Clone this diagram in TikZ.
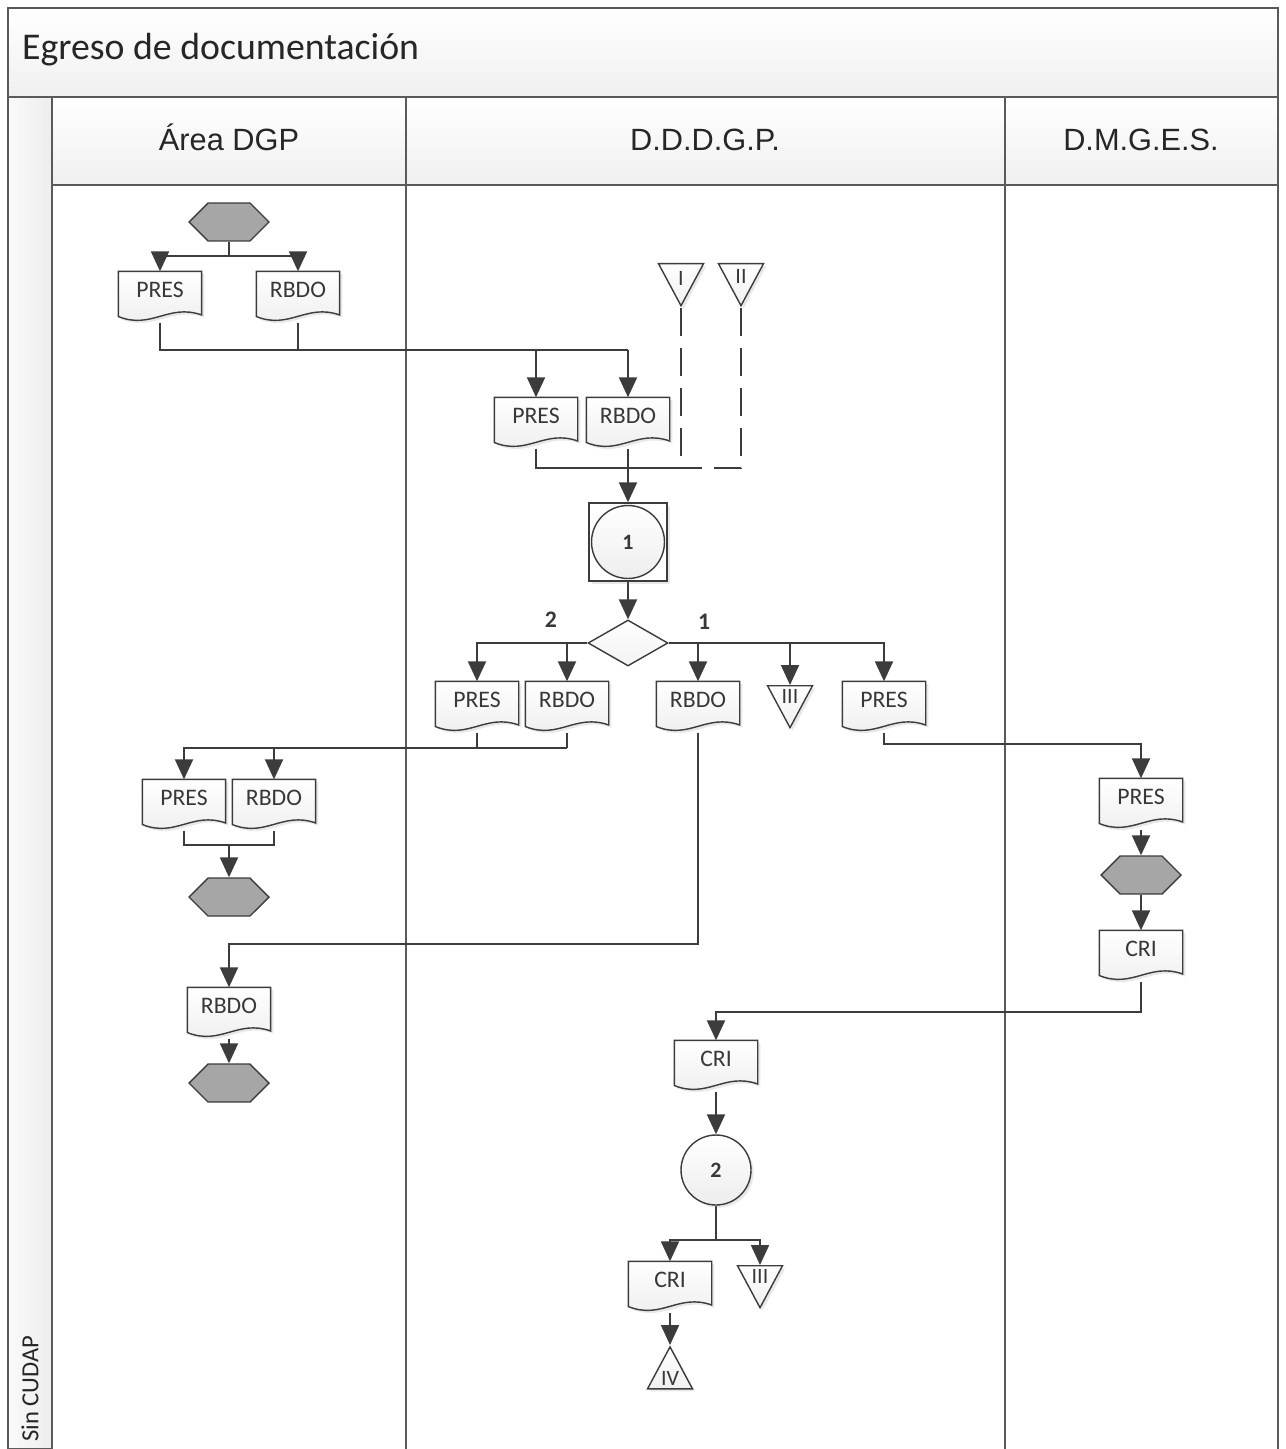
\documentclass[tikz,border=0pt]{standalone}
\usepackage{fontspec}
\setmainfont{Carlito}
\newfontfamily\headfont{Liberation Sans}
\usetikzlibrary{arrows.meta,shapes.geometric,shapes.symbols,shadows}

\definecolor{linec}{HTML}{3C3C3C}
\definecolor{framec}{HTML}{5A5A5A}
\definecolor{hexfill}{HTML}{A6A6A6}
\definecolor{textc}{HTML}{383838}

% document symbol: rectangle with a wavy bottom edge
\newdimen\dwL \newdimen\dwB \newdimen\dwW \newdimen\dwH
\makeatletter
\pgfdeclareshape{docwave}{
  \inheritsavedanchors[from=rectangle]
  \inheritanchorborder[from=rectangle]
  \inheritanchor[from=rectangle]{center}
  \inheritanchor[from=rectangle]{north}
  \inheritanchor[from=rectangle]{south}
  \inheritanchor[from=rectangle]{east}
  \inheritanchor[from=rectangle]{west}
  \inheritanchor[from=rectangle]{north east}
  \inheritanchor[from=rectangle]{north west}
  \inheritanchor[from=rectangle]{south east}
  \inheritanchor[from=rectangle]{south west}
  \backgroundpath{
    \southwest \global\dwL=\pgf@x \global\dwB=\pgf@y
    \northeast \global\dwW=\pgf@x \global\dwH=\pgf@y
    \global\advance\dwW by-\dwL
    \global\advance\dwH by-\dwB
    \pgfpathmoveto{\pgfpoint{\dwL}{\dwB+0.12*\dwH}}
    \pgfpathlineto{\pgfpoint{\dwL}{\dwB+\dwH}}
    \pgfpathlineto{\pgfpoint{\dwL+\dwW}{\dwB+\dwH}}
    \pgfpathlineto{\pgfpoint{\dwL+\dwW}{\dwB+0.15*\dwH}}
    \pgfpathcurveto{\pgfpoint{\dwL+0.6*\dwW}{\dwB+0.38*\dwH}}
                   {\pgfpoint{\dwL+0.4*\dwW}{\dwB-0.14*\dwH}}
                   {\pgfpoint{\dwL}{\dwB+0.12*\dwH}}
    \pgfpathclose
  }
}
\makeatother

\pgfdeclarelayer{lanes}
\pgfdeclarelayer{links}
\pgfsetlayers{lanes,links,main}

\tikzset{
  link/.style={draw=linec, line width=1.2pt},
  flow/.style={link, -{Triangle[length=0.4cm,width=0.36cm]}},
  dashlink/.style={link, dash pattern=on 0.56cm off 0.24cm},
  frame/.style={draw=framec, line width=1pt},
  softshadow/.style={drop shadow={shadow xshift=1.5pt, shadow yshift=-1.5pt, opacity=0.18}},
  docbox/.style={shape=docwave, draw=linec, line width=0.8pt, top color=white,
    bottom color=gray!14, minimum width=1.64cm, minimum height=1cm, inner sep=0pt,
    text height=0.31cm, text depth=0.31cm, text=textc,
    font=\fontsize{13.5}{15}\selectfont, softshadow},
  hexa/.style={shape=signal, signal to=east and west, signal pointer angle=90,
    draw=linec, line width=0.8pt, fill=hexfill, minimum width=1.6cm,
    minimum height=0.76cm, inner sep=0pt},
  tridown/.style={isosceles triangle, isosceles triangle stretches,
    shape border rotate=270, minimum width=0.9cm, minimum height=0.84cm,
    inner sep=0pt, draw=linec, line width=0.8pt, top color=white,
    bottom color=gray!12, text=textc, font=\fontsize{12.5}{13}\selectfont, softshadow},
  triup/.style={tridown, shape border rotate=90},
  conn/.style={circle, draw=linec, line width=0.8pt, top color=white,
    bottom color=gray!14, minimum size=1.4cm, inner sep=0pt, text=textc,
    font=\fontsize{12.5}{14}\selectfont\bfseries, softshadow},
  procbox/.style={rectangle, draw=linec, line width=0.8pt, fill=white,
    minimum size=1.56cm, inner sep=0pt, text=textc,
    font=\fontsize{12.5}{14}\selectfont\bfseries,
    path picture={\draw[line width=0.8pt, draw=linec, top color=white,
      bottom color=gray!14] (path picture bounding box.center) circle (0.73cm);},
    softshadow},
  decision/.style={diamond, draw=linec, line width=0.8pt, top color=white,
    bottom color=gray!10, minimum width=1.6cm, minimum height=0.92cm, inner sep=0pt},
  numlbl/.style={text=textc, font=\fontsize{13.5}{15}\selectfont\bfseries},
  lanehead/.style={anchor=base, text=black!85, font=\headfont\fontsize{17.5}{21}\selectfont}
}

\begin{document}
\begin{tikzpicture}[x=0.02cm, y=-0.02cm]
  \useasboundingbox (0,0) rectangle (1285,1449);

  % pool and lanes
  \begin{pgfonlayer}{lanes}
    \fill[white] (0,0) rectangle (1285,1449);
    \draw[frame, top color=white, bottom color=gray!12] (8,8) rectangle (1278,97);
    \draw[frame, left color=gray!4, right color=gray!14] (8,97) rectangle (52,1449);
    \draw[frame, top color=white, bottom color=gray!12] (52,97) rectangle (1278,185);
    \draw[frame] (406,97) -- (406,1449) (1005,97) -- (1005,1449) (1278,185) -- (1278,1449);
  \end{pgfonlayer}

  \node[anchor=west, text=black!85, font=\fontsize{21.5}{25}\selectfont] (title) at (16,50) {Egreso de documentación};
  \node[lanehead] (laneA) at (229,151) {Área DGP};
  \node[lanehead] (laneB) at (705,151) {D.D.D.G.P.};
  \node[lanehead] (laneC) at (1141,151) {D.M.G.E.S.};
  \node[rotate=90, anchor=west, text=black!85, font=\fontsize{14}{16}\selectfont] (sinc) at (30,1448) {Sin CUDAP};

  % Area DGP
  \node[hexa] (hexA) at (229,222) {};
  \node[docbox] (presA) at (160,297) {PRES};
  \node[docbox] (rbdoA) at (298,297) {RBDO};
  \node[docbox] (presE) at (184,805) {PRES};
  \node[docbox] (rbdoE) at (274,805) {RBDO};
  \node[hexa] (hexB) at (229,897) {};
  \node[docbox] (rbdoF) at (229,1013) {RBDO};
  \node[hexa] (hexC) at (229,1083) {};

  % D.D.D.G.P.
  \node[tridown, anchor=lower side] (triI) at (681,263) {I};
  \node[tridown, anchor=lower side] (triII) at (741,263) {II};
  \node[docbox] (presB) at (536,423) {PRES};
  \node[docbox] (rbdoB) at (628,423) {RBDO};
  \node[procbox] (proc1) at (628,542) {1};
  \node[decision] (dec) at (628,643) {};
  \node[numlbl] (lbl2) at (551,620) {2};
  \node[numlbl] (lbl1) at (704,622) {1};
  \node[docbox] (presC) at (477,707) {PRES};
  \node[docbox] (rbdoC) at (567,707) {RBDO};
  \node[docbox] (rbdoD) at (698,707) {RBDO};
  \node[tridown, anchor=lower side] (triIIIa) at (790,685) {III};
  \node[docbox] (presD) at (884,707) {PRES};
  \node[docbox] (criB) at (716,1066) {CRI};
  \node[conn] (circ2) at (716,1170) {2};
  \node[docbox] (criC) at (670,1287) {CRI};
  \node[tridown, anchor=lower side] (triIIIb) at (760,1265) {III};
  \node[triup, anchor=apex] (triIV) at (670,1345) {IV};

  % D.M.G.E.S.
  \node[docbox] (presF) at (1141,804) {PRES};
  \node[hexa] (hexD) at (1141,875) {};
  \node[docbox] (criA) at (1141,956) {CRI};

  \coordinate (jB) at (628,350);
  \coordinate (jC) at (628,468);
  \coordinate (jD) at (567,748);
  \coordinate (jF) at (229,845);
  \coordinate (jG) at (698,944);
  \coordinate (jH) at (884,744);
  \coordinate (jI) at (1141,1012);
  \coordinate (jJ) at (716,1240);

  \begin{pgfonlayer}{links}
    \draw[link] (hexA.south) -- ++(0,14) coordinate (jA);
    \draw[flow] (jA) -| (presA.north);
    \draw[flow] (jA) -| (rbdoA.north);
    \draw[link] (presA.south) |- (jB);
    \draw[link] (rbdoA.south) -- (rbdoA.south |- jB);
    \draw[flow] (jB) -- (rbdoB.north);
    \draw[flow] (presB.north |- jB) -- (presB.north);
    \draw[dashlink] (triI.apex) |- (jC);
    \draw[dashlink] (triII.apex) |- (jC);
    \draw[link] (presB.south) |- (jC);
    \draw[link] (rbdoB.south) -- (jC);
    \draw[flow] (jC) -- (proc1.north);
    \draw[flow] (proc1.south) -- (dec.north);
    \draw[flow] (dec.west) -| (presC.north);
    \draw[flow] (rbdoC.north |- dec.west) -- (rbdoC.north);
    \draw[flow] (dec.east) -| (presD.north);
    \draw[flow] (rbdoD.north |- dec.east) -- (rbdoD.north);
    \draw[flow] (triIIIa.lower side |- dec.east) -- (triIIIa.lower side);
    \draw[link] (rbdoC.south) -- (jD);
    \draw[link] (presC.south) -- (presC.south |- jD);
    \draw[flow] (jD) -| (presE.north);
    \draw[flow] (rbdoE.north |- jD) -- (rbdoE.north);
    \draw[link] (presE.south) |- (rbdoE.south |- jF) -- (rbdoE.south);
    \draw[flow] (jF) -- (hexB.north);
    \draw[flow] (rbdoD.south) -- (jG) -| (rbdoF.north);
    \draw[flow] (rbdoF.south) -- (hexC.north);
    \draw[flow] (presD.south) -- (jH) -| (presF.north);
    \draw[flow] (presF.south) -- (hexD.north);
    \draw[flow] (hexD.south) -- (criA.north);
    \draw[flow] (criA.south) -- (jI) -| (criB.north);
    \draw[flow] (criB.south) -- (circ2.north);
    \draw[link] (circ2.south) -- (jJ);
    \draw[flow] (jJ) -| (criC.north);
    \draw[flow] (jJ) -| (triIIIb.lower side);
    \draw[flow] (criC.south) -- (triIV.apex);
  \end{pgfonlayer}
\end{tikzpicture}
\end{document}
